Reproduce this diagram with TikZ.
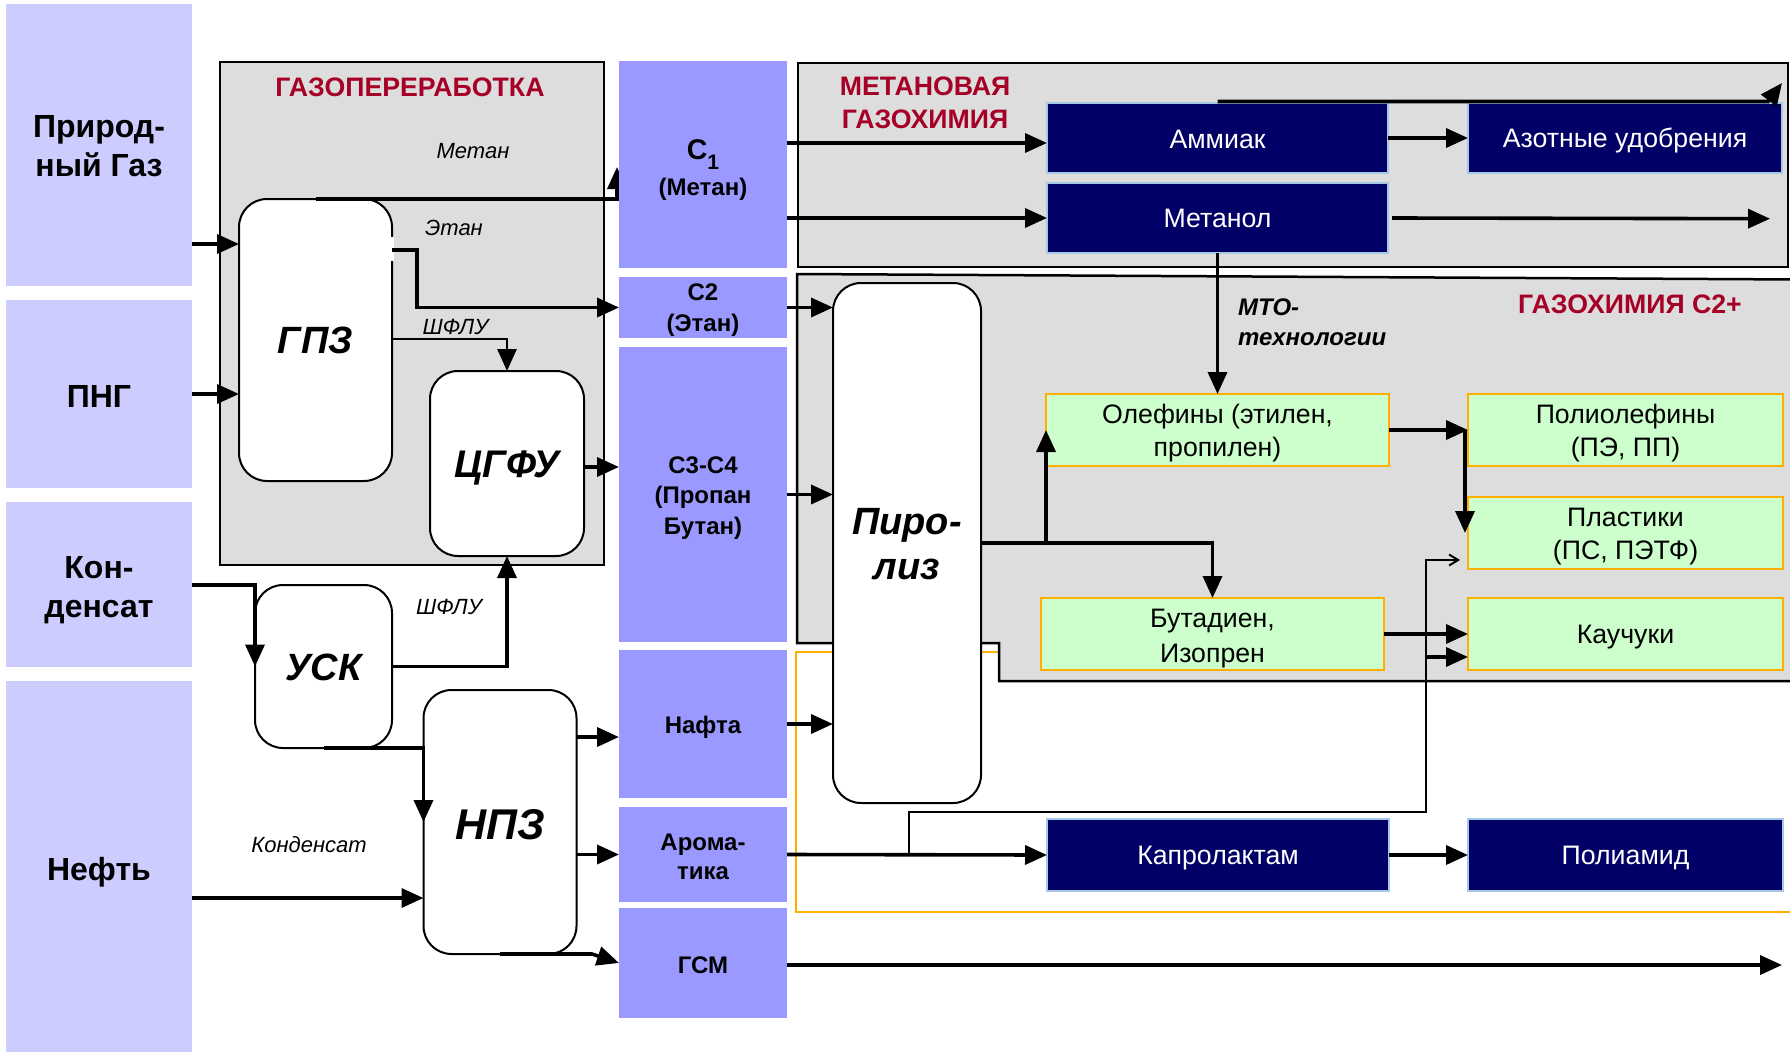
\documentclass[tikz,border=0pt]{standalone}
\usepackage{fontspec}
\setmainfont{Liberation Sans}
\usetikzlibrary{arrows.meta}
\definecolor{cIn}{HTML}{CCCCFF}
\definecolor{cMid}{HTML}{9999FF}
\definecolor{cGray}{HTML}{DDDDDD}
\definecolor{cRed}{RGB}{166,0,38}
\definecolor{cNavy}{HTML}{000066}
\definecolor{cNavyEdge}{RGB}{165,200,228}
\definecolor{cGreen}{HTML}{CCFFCC}
\definecolor{cOrange}{RGB}{255,175,0}
\tikzset{
  inputbox/.style={fill=cIn, inner sep=0pt, outer sep=0pt, minimum width=186pt},
  streambox/.style={fill=cMid, inner sep=0pt, outer sep=0pt, minimum width=168pt},
  areabox/.style={fill=cGray, draw=black, line width=2.5pt},
  unitbox/.style={draw=black, fill=white, line width=2pt, rounded corners=28pt, inner sep=0pt, outer sep=0pt},
  darkbox/.style={fill=cNavy, draw=cNavyEdge, line width=2pt, inner sep=0pt, outer sep=0pt},
  greenbox/.style={fill=cGreen, draw=cOrange, line width=2.5pt, inner sep=0pt, outer sep=0pt, minimum height=72pt},
  intext/.style={inner sep=0pt, align=center, font=\fontsize{32}{39}\selectfont\bfseries},
  streamtext/.style={inner sep=0pt, align=center, font=\fontsize{24}{30}\selectfont\bfseries},
  unittext/.style={inner sep=0pt, align=center, font=\fontsize{38}{45}\selectfont\bfseries\itshape},
  darktext/.style={inner sep=0pt, align=center, text=white, font=\fontsize{26.7}{32}\selectfont},
  greentext/.style={inner sep=0pt, align=center, font=\fontsize{26.7}{33}\selectfont},
  areatitle/.style={text=cRed, inner sep=0pt, align=center, font=\fontsize{26.7}{33}\selectfont\bfseries},
  flowlabel/.style={inner sep=0pt, font=\fontsize{22}{26}\selectfont\itshape},
  arr/.style={line width=3.6pt, -{Triangle[length=22pt,width=19pt]}},
  thinarr/.style={line width=2.8pt, -{Triangle[length=22pt,width=19pt]}},
  finearr/.style={line width=2pt, -{Straight Barb[length=9pt,width=11pt]}},
}
\begin{document}
\begin{tikzpicture}[x=1pt,y=-1pt]
\path[use as bounding box, clip] (0,0) rectangle (1790,1052);

% background areas
\draw[draw=cOrange, line width=2pt, fill=white] (796,652) rectangle (1800,912);
\draw[areabox] (797,274) -- (1800,279.5) -- (1800,681) -- (999,681) -- (999,643) -- (797,643) -- cycle;
\draw[areabox] (798,63) rectangle (1788,267);
\draw[areabox] (220,62) rectangle (604,565);

\node[areatitle] (t1) at (410,87) {ГАЗОПЕРЕРАБОТКА};
\node[areatitle] (t2) at (925,103) {МЕТАНОВАЯ\\ГАЗОХИМИЯ};
\node[areatitle] (t3) at (1630,304) {ГАЗОХИМИЯ С2+};

% inputs
\node[inputbox, minimum height=282pt] (gas) at (99,145) {};
\node[intext] (gasT) at ([yshift=-1pt]gas.center) {Природ-\\ный Газ};
\node[inputbox, minimum height=188pt] (png) at (99,394) {};
\node[intext] (pngT) at ([yshift=-2.5pt]png.center) {ПНГ};
\node[inputbox, minimum height=165pt] (kond) at (99,584.5) {};
\node[intext] (kondT) at ([yshift=-5.5pt]kond.center) {Кон-\\денсат};
\node[inputbox, minimum height=371pt] (neft) at (99,866.5) {};
\node[intext] (neftT) at ([yshift=-5.5pt]neft.center) {Нефть};

% units
\node[unitbox, minimum width=153pt, minimum height=282pt] (gpz) at (315.5,340) {};
\node[unittext] (gpzT) at (gpz.center) {ГПЗ};
\fill[white] (390.5,237) rectangle (394,261);
\node[unitbox, minimum width=154pt, minimum height=185pt] (cgfu) at (507,463.5) {};
\node[unittext, font=\fontsize{38.5}{45}\selectfont\bfseries\itshape] (cgfuT) at ([yshift=-4.5pt]cgfu.center) {ЦГФУ};
\node[unitbox, minimum width=137pt, minimum height=163pt] (usk) at (323.5,666.5) {};
\node[unittext] (uskT) at ([yshift=-1pt]usk.center) {УСК};
\node[unitbox, minimum width=153pt, minimum height=264pt] (npz) at (500,822) {};
\node[unittext, font=\fontsize{43}{45}\selectfont\bfseries\itshape] (npzT) at ([yshift=-2.3pt]npz.center) {НПЗ};
\node[unitbox, minimum width=148pt, minimum height=520pt] (piro) at (907,543) {};
\node[unittext] (piroT) at ([yshift=-1pt]piro.center) {Пиро-\\лиз};

% methane arrow (partly hidden by C1 box)
\coordinate (metup) at (617,167);
\draw[arr] (gpz.north) -- (gpz.north -| metup) -- (metup);

% stream boxes
\node[streambox, minimum height=207pt] (c1) at (703,164.5) {};
\node[inner sep=0pt, align=center, font=\fontsize{24}{35.5}\selectfont\bfseries] (c1T) at (703,170) {{\fontsize{28.5}{28}\selectfont C}\raisebox{-10pt}{\fontsize{21}{21}\selectfont 1}\\(Метан)};
\node[streambox, minimum height=61pt] (c2) at (703,307.5) {};
\node[streamtext, font=\fontsize{24}{31}\selectfont\bfseries] (c2T) at ([yshift=-2.8pt]c2.center) {C2\\(Этан)};
\node[streambox, minimum height=295pt] (c34) at (703,494.5) {};
\node[streamtext, font=\fontsize{24}{30.3}\selectfont\bfseries] (c34T) at ([yshift=-3.4pt]c34.center) {C3-C4\\(Пропан\\Бутан)};
\node[streambox, minimum height=148pt] (nafta) at (703,724) {};
\node[streamtext] (naftaT) at ([yshift=-3.4pt]nafta.center) {Нафта};
\node[streambox, minimum height=95pt] (arom) at (703,854.5) {};
\node[streamtext, font=\fontsize{24}{29}\selectfont\bfseries] (aromT) at ([yshift=-2.3pt]arom.center) {Арома-\\тика};
\node[streambox, minimum height=110pt] (gsm) at (703,963) {};
\node[streamtext] (gsmT) at ([yshift=-2.3pt]gsm.center) {ГСМ};

% product boxes
\node[darkbox, minimum width=341pt, minimum height=70pt] (ammiak) at (1217.5,138) {};
\node[darktext] (ammiakT) at ([yshift=-1.5pt]ammiak.center) {Аммиак};
\node[darkbox, minimum width=341pt, minimum height=70pt] (metanol) at (1217.5,218) {};
\node[darktext] (metanolT) at ([yshift=-0.5pt]metanol.center) {Метанол};
\node[darkbox, minimum width=314pt, minimum height=70pt] (azot) at (1625,138) {};
\node[darktext] (azotT) at ([yshift=-2pt]azot.center) {Азотные удобрения};
\node[greenbox, minimum width=343pt] (olef) at (1217.5,430) {};
\node[greentext] (olefT) at ([yshift=-3.5pt]olef.center) {Олефины (этилен,\\пропилен)};
\node[greenbox, minimum width=315pt] (poliol) at (1625.5,430) {};
\node[greentext] (poliolT) at ([yshift=-3.5pt]poliol.center) {Полиолефины\\(ПЭ, ПП)};
\node[greenbox, minimum width=315pt] (plast) at (1625.5,533) {};
\node[greentext] (plastT) at ([yshift=-3.5pt]plast.center) {Пластики\\(ПС, ПЭТФ)};
\node[greenbox, minimum width=343pt] (butad) at (1212.5,634) {};
\node[greentext, font=\fontsize{26.7}{35}\selectfont] (butadT) at ([yshift=-4.5pt]butad.center) {Бутадиен,\\Изопрен};
\node[greenbox, minimum width=315pt] (kauch) at (1625.5,634) {};
\node[greentext] (kauchT) at ([yshift=-3.4pt]kauch.center) {Каучуки};
\node[darkbox, minimum width=342pt, minimum height=72pt] (kapro) at (1218,855) {};
\node[darktext] (kaproT) at ([yshift=-3.4pt]kapro.center) {Капролактам};
\node[darkbox, minimum width=315pt, minimum height=72pt] (poliamid) at (1625.5,855) {};
\node[darktext] (poliamidT) at ([yshift=-3.4pt]poliamid.center) {Полиамид};

% flow labels
\node[flowlabel] (lmetan) at (473,151) {Метан};
\node[flowlabel] (letan) at (454,228) {Этан};
\node[flowlabel] (lshf1) at (455.5,327) {ШФЛУ};
\node[flowlabel] (lshf2) at (449,607) {ШФЛУ};
\node[flowlabel] (lkond) at (309,845) {Конденсат};
\node[anchor=west, inner sep=0pt, align=left, font=\fontsize{24}{29.5}\selectfont\bfseries\itshape] (lmto) at (1238,322) {МТО-\\технологии};

% connectors: gas processing
\draw[arr] (gas.east |- 0,244) -- (gpz.west |- 0,244);
\draw[arr] (png.east) -- (gpz.west |- png.east);
\draw[arr] (gpz.east |- 0,250) -- (417,250) -- (417,307.5) -- (c2.west);
\draw[thinarr] (gpz.east |- 0,339) -- (cgfu.north |- 0,339) -- (cgfu.north);
\draw[arr] (cgfu.east |- 0,467) -- (c34.west |- 0,467);
\draw[arr] (kond.east |- usk.north west) -- (usk.north west) -- (usk.west);
\draw[arr] (usk.east) -- (cgfu.south |- usk.east) -- (cgfu.south);
\draw[arr] (usk.south) -- (npz.west |- usk.south) -- (npz.west);
\draw[arr] (neft.east |- 0,898) -- (npz.west |- 0,898);
\draw[arr] (npz.east |- 0,737) -- (nafta.west |- 0,737);
\draw[arr] (npz.east |- arom.west) -- (arom.west);
\coordinate (gsmbend) at (592,954);
\draw[arr] (npz.south) -- (gsmbend) -- (gsm.west);

% methane chemistry
\draw[arr] (c1.east |- 0,143) -- (ammiak.west |- 0,143);
\draw[arr] (c1.east |- metanol.west) -- (metanol.west);
\draw[arr] (ammiak.east) -- (azot.west);
\coordinate (metout) at (1770,218.7);
\draw[arr] ([xshift=4pt]metanol.east) -- (metout);
\coordinate (amtop1) at (1768,101.5);
\coordinate (amtop2) at (1782,83);
\draw[arr] ([yshift=1.5pt]ammiak.north) -- (amtop1) -- (amtop2);
\draw[arr] (metanol.south) -- (olef.north);

% C2+ chemistry
\draw[arr] (c2.east) -- (piro.west |- c2.east);
\draw[arr] (c34.east) -- (piro.west |- c34.east);
\draw[arr] (nafta.east) -- (piro.west |- nafta.east);
\draw[arr] (piro.east) -- (butad.north |- piro.east) -- (butad.north);
\draw[arr] (olef.west |- piro.east) -- (olef.west);
\draw[arr] (olef.east) -- (poliol.west);
\draw[arr] ([xshift=-3pt]poliol.west) -- ([xshift=-3pt]plast.west);
\draw[arr] (butad.east) -- (kauch.west |- butad.east);
\coordinate (kbr) at (1426,657);
\draw[arr] (kbr) -- (kauch.west |- kbr);
\coordinate (aroj) at (909,855);
\draw[finearr] (aroj) -- (909,812) -- (1426,812) -- (1426,560) -- ([xshift=-8pt]plast.west |- 0,560);

% aromatics and fuels
\draw[arr] (arom.east) -- (kapro.west);
\draw[arr] (kapro.east) -- (poliamid.west);
\coordinate (gsmout) at (1782,965);
\draw[arr] (gsm.east |- gsmout) -- (gsmout);
\end{tikzpicture}
\end{document}
